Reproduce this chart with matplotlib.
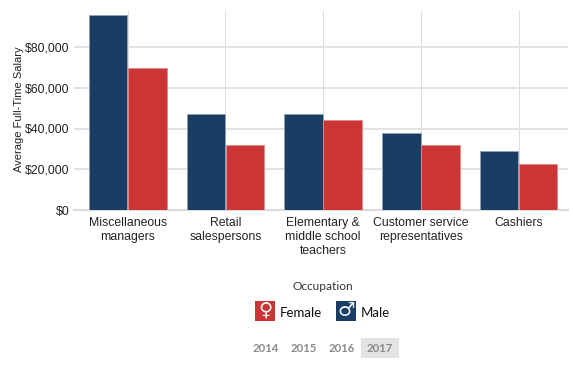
import matplotlib
matplotlib.use("Agg")
import matplotlib.pyplot as plt
from matplotlib.patches import Rectangle
import numpy as np

categories = ["Miscellaneous\nmanagers", "Retail\nsalespersons", "Elementary &\nmiddle school\nteachers",
              "Customer service\nrepresentatives", "Cashiers"]
male = [95500, 47100, 47100, 38000, 29000]
female = [69600, 32100, 44000, 32000, 22800]
years = ["2014", "2015", "2016", "2017"]
yticks = [0, 20000, 40000, 60000, 80000]

W, H = 573, 366
NAVY = "#1a3e63"
RED = "#cc3535"
plt.rcParams["font.family"] = ["Liberation Sans", "DejaVu Sans"]
fig = plt.figure(figsize=(W/100, H/100), dpi=100)
L, R, T, B = 74, 568, 11, 210
ax = fig.add_axes([L/W, 1-B/H, (R-L)/W, (B-T)/H])
x = np.arange(len(categories))
ax.bar(x-0.2, male, 0.395, color=NAVY, edgecolor="#8fa0b4", linewidth=0.6, zorder=3)
ax.bar(x+0.2, female, 0.395, color=RED, edgecolor="#e08a8a", linewidth=0.6, zorder=3)
STEP = 97.7
C0 = 127.7
ax.set_xlim((L-C0)/STEP, (R-C0)/STEP)
ax.set_ylim(0, (B-T)/163*80000)
ax.set_xticks(x, categories, fontsize=8.8, color="#222222", linespacing=1.2)
ax.set_yticks(yticks, [f"${v:,}" for v in yticks], fontsize=8.8, color="#222222")
ax.tick_params(axis="x", length=0, pad=5)
ax.tick_params(axis="y", length=0, pad=3.5)
ax.grid(axis="y", color="#e3e3e3", linewidth=1.4, zorder=0)
ax.grid(axis="x", color="#dcdcdc", linewidth=0.7, zorder=0)
for s in ["top", "right", "left"]:
    ax.spines[s].set_visible(False)
ax.spines["bottom"].set_color("#dcdcdc")
ax.spines["bottom"].set_linewidth(1.6)
ax.set_axisbelow(True)
fig.text(19.5/W, 1-109.5/H, "Average Full-Time Salary", rotation=90, ha="center", va="center",
         fontsize=8.0, color="#222222")

def px(xp, yp):
    return xp/W, 1-yp/H

fig.text(*px(323, 286), "Occupation", ha="center", va="center", fontsize=8.6, family="Lato", color="#333333")
for x0, col, sym, lab, tx in [(254, RED, "\u2640", "Female", 280), (335, NAVY, "\u2642", "Male", 361)]:
    fig.add_artist(Rectangle(px(x0+0.5, 321), 20.5/W, 20/H, transform=fig.transFigure, facecolor=col, edgecolor="none"))
    fig.text(*px(x0+11, 310.5), sym, ha="center", va="center", fontsize=14, color="#f2f2f2", family="DejaVu Sans")
    fig.text(*px(tx, 313), lab, ha="left", va="center", fontsize=9.5, family="Lato", color="#111111")

fig.add_artist(Rectangle(px(361, 358), 38/W, 20/H, transform=fig.transFigure, facecolor="#e3e3e3", edgecolor="none"))
for xc, y in zip([266, 304, 342, 380], years):
    fig.text(*px(xc, 348.5), y, ha="center", va="center", fontsize=8.2, fontweight="bold", family="Lato", color="#8a8a8a")

fig.savefig("out.png", dpi=100)
